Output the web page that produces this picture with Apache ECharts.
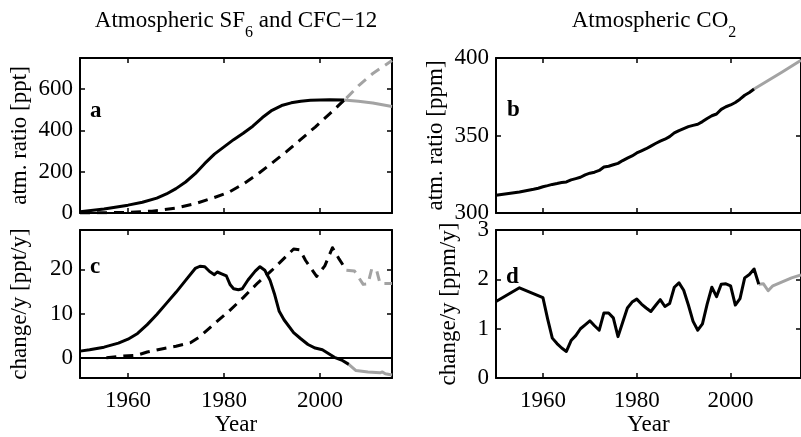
<!DOCTYPE html>
<html><head><meta charset="utf-8">
<script src="https://cdn.jsdelivr.net/npm/echarts@6/dist/echarts.min.js"></script>
<style>html,body{margin:0;padding:0;background:#fff}#c{width:801px;height:437px}</style>
</head><body><div id="c"></div><script>
const FONT = '"Liberation Serif","Times New Roman",serif';
const BLACK = '#000000';
const GREY = '#a3a3a3';

// ---- x axis ----
const xTickValues = [1960, 1980, 2000];
const xRange = [1950, 2015];

// ---- panel a: atmospheric ratio [ppt] ----
const cfcYears = [1950,1955,1960,1963,1966,1968,1970,1972,1974,1976,1978,1980,1982,1984,1986,1988,1990,1992,1994,1996,1998,2000,2002,2005];
const cfcValues = [6,19,38,52,72,92,118,150,190,240,285,320,355,386,420,462,497,520,533,541,545,547,548,547];
const cfcProjYears = [2005,2008,2011,2015];
const cfcProjValues = [547,541,532,515];
const sf6Years = [1950,1955,1960,1965,1970,1974,1978,1981,1984,1987,1990,1993,1996,1999,2002,2005.5];
const sf6Values = [0,1,3,9,24,45,75,100,140,188,242,297,356,416,480,556];
const sf6ProjYears = [2005.5,2008,2011,2015];
const sf6ProjValues = [556,615,675,738];

// ---- panel c: change/y [ppt/y] ----
const cfcRateYears = [1950,1952,1955,1958,1960,1962,1964,1966,1968,1970,1972,1974,1975,1976,1977,1978,1978.6,1979.5,1980.5,1981.3,1982,1983,1983.8,1985,1986.5,1987.5,1988.5,1989.6,1990.5,1991.5,1992.5,1994.5,1996,1997.5,1999,2000.5,2002,2003,2004.5,2006];
const cfcRateValues = [1.5,1.8,2.4,3.3,4.2,5.5,7.5,9.8,12.3,14.8,17.5,20.2,20.7,20.6,19.5,18.8,19.4,19.0,18.5,16.5,15.6,15.4,15.6,17.6,19.6,20.6,19.8,17.5,14.5,10.5,8.6,5.7,4.3,3.0,2.2,1.8,0.8,0.1,-0.5,-1.5];
const cfcRateProjYears = [2006,2007.5,2010,2012.5,2013,2013.6,2015];
const cfcRateProjValues = [-1.5,-2.9,-3.2,-3.4,-3.2,-3.6,-3.9];
const sf6RateYears = [1955.5,1958,1962,1964,1967,1970,1973,1975,1978,1981,1984,1987,1990,1993,1994.5,1995.8,1997,1999.3,2001,2002.6,2004,2005.5];
const sf6RateValues = [0,0.3,0.6,1.3,2.0,2.6,3.4,4.8,7.7,10.5,13.6,16.9,19.8,23.0,24.6,24.4,22.0,18.4,20.8,24.9,22.3,19.8];
const sf6RateProjYears = [2005.5,2007.2,2009,2010,2010.8,2011.8,2012.5,2015];
const sf6RateProjValues = [19.8,19.6,16.6,16.7,20.2,19.8,16.8,16.8];

// ---- panel b: atmospheric ratio [ppm] ----
const co2Years = [1950,1955,1958,1959,1960,1961,1962,1963,1964,1965,1966,1967,1968,1969,1970,1971,1972,1973,1974,1975,1976,1977,1978,1979,1980,1981,1982,1983,1984,1985,1986,1987,1988,1989,1990,1991,1992,1993,1994,1995,1996,1997,1998,1999,2000,2001,2002,2003,2004,2005];
const co2Values = [311.5,313.6,315.3,315.98,316.91,317.64,318.45,318.99,319.62,320.04,321.37,322.18,323.05,324.62,325.68,326.32,327.46,329.68,330.19,331.13,332.03,333.84,335.41,336.84,338.76,340.12,341.48,343.15,344.85,346.35,347.61,349.31,351.69,353.20,354.45,355.70,356.54,357.21,358.96,360.97,362.74,363.88,366.84,368.54,369.71,371.32,373.45,375.98,377.70,379.98];
const co2ProjYears = [2005,2008,2011,2015];
const co2ProjValues = [379.98,385.5,391.0,398.5];

// ---- panel d: change/y [ppm/y] ----
const co2RateYears = [1950,1955,1960,1961,1962,1963,1964,1965,1966,1967,1968,1969,1970,1971,1972,1973,1974,1975,1976,1977,1978,1979,1980,1981,1982,1983,1984,1985,1986,1987,1988,1989,1990,1991,1992,1993,1994,1995,1996,1997,1998,1999,2000,2001,2002,2003,2004,2005,2006];
const co2RateValues = [1.55,1.83,1.63,1.2,0.81,0.7,0.61,0.54,0.76,0.86,1.0,1.08,1.16,1.06,0.97,1.32,1.32,1.22,0.84,1.13,1.42,1.54,1.6,1.5,1.42,1.35,1.47,1.59,1.45,1.51,1.84,1.93,1.78,1.48,1.15,0.97,1.1,1.5,1.84,1.65,1.9,1.91,1.87,1.48,1.61,2.03,2.1,2.21,1.9];
const co2RateProjYears = [2006,2007,2008,2009,2010,2011,2012,2013,2014,2015];
const co2RateProjValues = [1.9,1.91,1.77,1.87,1.91,1.95,1.99,2.03,2.06,2.09];

function pairs(xs, ys) { return xs.map((x, i) => [x, ys[i]]); }

const panels = [
  {grid:{left:80, top:58, width:312, height:155}, y:{min:0, max:750, ticks:[0,200,400,600], name:'atm. ratio [ppt]', gap:49}, xlabel:false},
  {grid:{left:80, top:230, width:312, height:154}, y:{min:-4.6, max:28.9, ticks:[0,10,20], name:'change/y [ppt/y]', gap:49}, xlabel:true},
  {grid:{left:496, top:58, width:312, height:155}, y:{min:300, max:400, ticks:[300,350,400], name:'atm. ratio [ppm]', gap:49}, xlabel:false},
  {grid:{left:496, top:230, width:312, height:155}, y:{min:0, max:3, ticks:[0,1,2,3], name:'change/y [ppm/y]', gap:36}, xlabel:true}
];

const FS = 23;
const axisLine = {show:true, onZero:false, lineStyle:{color:BLACK, width:2}};
const tickStyle = {color:BLACK, width:1.5};
const labelText = {fontFamily:FONT, fontSize:FS, color:BLACK};
const plain = v => String(v);

const grid = [], xAxis = [], yAxis = [];
panels.forEach((p, i) => {
  grid.push(Object.assign({containLabel:false}, p.grid));
  ['bottom','top'].forEach((pos, k) => {
    xAxis.push({
      type:'value', gridIndex:i, position:pos, min:xRange[0], max:xRange[1],
      axisLine:axisLine,
      axisTick:{show:true, inside:true, length:5, lineStyle:tickStyle, customValues:xTickValues},
      axisLabel:Object.assign({show:(k===0 && p.xlabel), margin:11, customValues:xTickValues, formatter:plain}, labelText),
      splitLine:{show:false},
      name:(k===0 && p.xlabel) ? 'Year' : '', nameLocation:'middle', nameGap:34,
      nameTextStyle:labelText
    });
  });
  ['left','right'].forEach((pos, k) => {
    yAxis.push({
      type:'value', gridIndex:i, position:pos, min:p.y.min, max:p.y.max,
      axisLine:axisLine,
      axisTick:{show:true, inside:true, length:5, lineStyle:tickStyle, customValues:p.y.ticks},
      axisLabel:Object.assign({show:k===0, margin:7, customValues:p.y.ticks, formatter:plain}, labelText),
      splitLine:{show:false},
      name:k===0 ? p.y.name : '', nameLocation:'middle', nameGap:p.y.gap,
      nameTextStyle:labelText
    });
  });
});

function line(panel, xs, ys, color, dashed, extra) {
  return Object.assign({
    type:'line', xAxisIndex:panel*2, yAxisIndex:panel*2, data:pairs(xs, ys),
    showSymbol:false, symbol:'none', animation:false, silent:true,
    lineStyle:{color:color, width:3, type:dashed ? [10,7] : 'solid', cap:'butt', join:'round'},
    z: color === BLACK ? 3 : 2
  }, extra || {});
}

const series = [
  line(0, cfcProjYears, cfcProjValues, GREY, false),
  line(0, sf6ProjYears, sf6ProjValues, GREY, true),
  line(0, cfcYears, cfcValues, BLACK, false),
  line(0, sf6Years, sf6Values, BLACK, true),
  line(1, cfcRateProjYears, cfcRateProjValues, GREY, false),
  line(1, sf6RateProjYears, sf6RateProjValues, GREY, true),
  line(1, cfcRateYears, cfcRateValues, BLACK, false, {
    markLine:{silent:true, symbol:['none','none'], label:{show:false},
      lineStyle:{color:BLACK, width:2, type:'solid'}, data:[{yAxis:0}], animation:false}
  }),
  line(1, sf6RateYears, sf6RateValues, BLACK, true),
  line(2, co2ProjYears, co2ProjValues, GREY, false),
  line(2, co2Years, co2Values, BLACK, false),
  line(3, co2RateProjYears, co2RateProjValues, GREY, false),
  line(3, co2RateYears, co2RateValues, BLACK, false)
];

const richTitle = {
  a:{fontFamily:FONT, fontSize:FS, fill:BLACK, lineHeight:40, verticalAlign:'middle'},
  s:{fontFamily:FONT, fontSize:16, fill:BLACK, lineHeight:16, verticalAlign:'bottom'}
};
function panelLabel(t, x, y) {
  return {type:'text', x:x, y:y, silent:true,
    style:{text:t, fontFamily:FONT, fontSize:23, fontWeight:'bold', fill:BLACK, align:'left', verticalAlign:'alphabetic'}};
}

const option = {
  backgroundColor:'#ffffff',
  animation:false,
  grid:grid, xAxis:xAxis, yAxis:yAxis, series:series,
  graphic:[
    {type:'text', x:236, y:21, silent:true, style:{text:'{a|Atmospheric SF}{s|6}{a| and CFC\u221212}', align:'center', verticalAlign:'middle', rich:richTitle}},
    {type:'text', x:654, y:21, silent:true, style:{text:'{a|Atmospheric CO}{s|2}', align:'center', verticalAlign:'middle', rich:richTitle}},
    panelLabel('a', 90, 100),
    panelLabel('b', 507, 99),
    panelLabel('c', 90, 256),
    panelLabel('d', 506, 266)
  ]
};
const chart = echarts.init(document.getElementById('c'), null, {renderer:'canvas'});
chart.setOption(option);
</script></body></html>
